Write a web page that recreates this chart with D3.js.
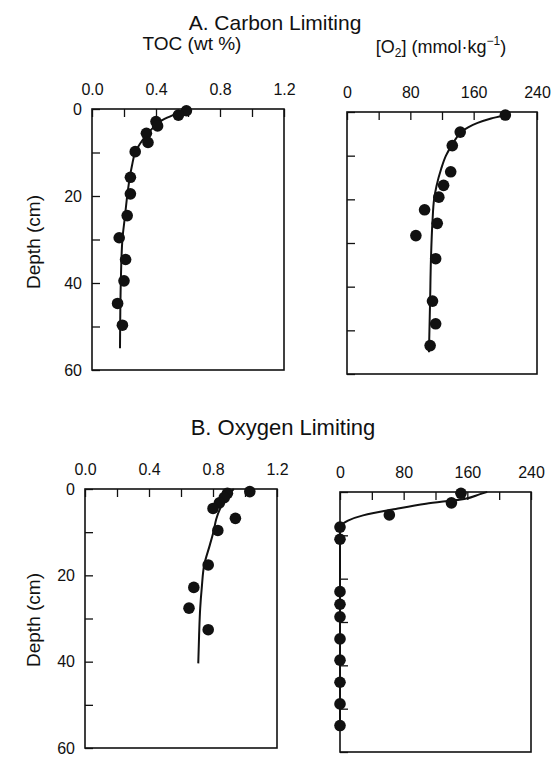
<!DOCTYPE html>
<html>
<head>
<meta charset="utf-8">
<script src="https://cdn.jsdelivr.net/npm/d3@7"></script>
<style>
  html, body { margin: 0; padding: 0; background: #fff; }
  svg { display: block; font-family: "Liberation Sans", Arial, Helvetica, sans-serif; }
  .tick text { fill: #111; }
</style>
</head>
<body>
<svg id="chart" width="560" height="758"></svg>
<script>
// Depth axis (cm)
const depthTicks = [0, 10, 20, 30, 40, 50, 60];
const depthLabels = [0, 20, 40, 60];

// TOC axis (wt %)
const tocTicks = [0, 0.2, 0.4, 0.6, 0.8, 1.0, 1.2];
const tocLabels = [0, 0.4, 0.8, 1.2];

// O2 axis (mmol/kg)
const o2Ticks = [0, 40, 80, 120, 160, 200, 240];
const o2Labels = [0, 80, 160, 240];

// A. Carbon limiting — TOC measurements
const aTocDepth = [0.4, 1.4, 2.9, 3.9, 5.6, 7.7, 9.8, 15.7, 19.5, 24.5, 29.6, 34.6, 39.5, 44.7, 49.7];
const aTocValue = [0.59, 0.54, 0.40, 0.41, 0.34, 0.35, 0.27, 0.24, 0.24, 0.22, 0.17, 0.21, 0.20, 0.16, 0.19];
// A. Carbon limiting — TOC model profile
const aTocFitDepth = [0, 1, 2, 3, 4, 6, 8, 10, 13, 16, 20, 25, 30, 40, 55];
const aTocFitValue = [0.59, 0.53, 0.47, 0.42, 0.39, 0.34, 0.30, 0.27, 0.25, 0.235, 0.22, 0.205, 0.19, 0.18, 0.175];

// A. Carbon limiting — O2 measurements
const aO2Depth = [0.7, 4.6, 7.7, 13.7, 16.8, 19.5, 22.4, 25.5, 28.3, 33.6, 43.3, 48.5, 53.5];
const aO2Value = [200, 143, 133, 131, 122, 116, 98, 114, 87, 112, 108, 112, 105];
// A. Carbon limiting — O2 model profile
const aO2FitDepth = [0, 0.7, 1.5, 2.5, 3.5, 4.6, 6, 7.7, 10, 13, 17, 20, 25, 34, 43, 55];
const aO2FitValue = [206, 199, 182, 165, 153, 144, 138, 132, 125, 119, 113, 110, 108, 106, 105, 103.5];

// B. Oxygen limiting — TOC measurements
const bTocDepth = [0.6, 1.0, 2.0, 3.2, 4.5, 6.8, 9.6, 17.6, 22.8, 27.6, 32.6];
const bTocValue = [1.03, 0.89, 0.87, 0.84, 0.80, 0.94, 0.83, 0.77, 0.68, 0.65, 0.77];
// B. Oxygen limiting — TOC model profile
const bTocFitDepth = [0, 2, 4.5, 7, 9.6, 13, 17.6, 22.8, 27.6, 34, 40.4];
const bTocFitValue = [0.93, 0.88, 0.845, 0.82, 0.805, 0.78, 0.745, 0.73, 0.72, 0.713, 0.708];

// B. Oxygen limiting — O2 measurements
const bO2Depth = [0.3, 2.5, 5.3, 8.1, 10.9, 23.0, 25.9, 28.8, 33.9, 38.8, 43.9, 48.9, 53.9];
const bO2Value = [152, 140, 62, 0, 0, 0, 0, 0, 0, 0, 0, 0, 0];
// B. Oxygen limiting — O2 model profile
const bO2FitDepth = [0, 0.5, 1.6, 2.7, 3.9, 5.4, 6.6, 7.7, 9, 55];
const bO2FitValue = [185, 176, 156, 108, 70, 29, 10, 2, 0, 0];

const svg = d3.select("#chart");
const ink = "#111";

const panels = [
  { x: 92,  y: 109, w: 192, h: 261, dom: [0, 1.2], ticks: tocTicks, labels: tocLabels, fmt: d3.format(".1f"),
    pd: aTocDepth, pv: aTocValue, fd: aTocFitDepth, fv: aTocFitValue, depthLabels: true },
  { x: 347, y: 112, w: 190, h: 262, dom: [0, 240], ticks: o2Ticks, labels: o2Labels, fmt: d3.format("d"),
    pd: aO2Depth, pv: aO2Value, fd: aO2FitDepth, fv: aO2FitValue, depthLabels: false },
  { x: 85,  y: 489, w: 192, h: 259, dom: [0, 1.2], ticks: tocTicks, labels: tocLabels, fmt: d3.format(".1f"),
    pd: bTocDepth, pv: bTocValue, fd: bTocFitDepth, fv: bTocFitValue, depthLabels: true },
  { x: 340, y: 492, w: 191, h: 260, dom: [0, 240], ticks: o2Ticks, labels: o2Labels, fmt: d3.format("d"),
    pd: bO2Depth, pv: bO2Value, fd: bO2FitDepth, fv: bO2FitValue, depthLabels: false }
];

panels.forEach(p => {
  const g = svg.append("g").attr("transform", `translate(${p.x},${p.y})`);
  const xs = d3.scaleLinear().domain(p.dom).range([0, p.w]);
  const ys = d3.scaleLinear().domain([0, 60]).range([0, p.h]);

  // top value axis, ticks pointing into the frame
  const xAxis = d3.axisTop(xs)
    .tickValues(p.ticks)
    .tickSizeInner(-8).tickSizeOuter(0)
    .tickPadding(14)
    .tickFormat(d => p.labels.some(l => Math.abs(l - d) < 1e-9) ? p.fmt(d) : "");
  const gx = g.append("g").call(xAxis);
  gx.select(".domain").remove();
  gx.selectAll(".tick line").attr("stroke", ink).attr("stroke-width", 1.3);
  gx.selectAll(".tick text").attr("font-size", 16).attr("font-family", "Liberation Sans, Arial, sans-serif");

  // left depth axis
  const yAxis = d3.axisLeft(ys)
    .tickValues(depthTicks)
    .tickSizeInner(-8).tickSizeOuter(0)
    .tickPadding(10)
    .tickFormat(d => p.depthLabels && depthLabels.includes(d) ? d3.format("d")(d) : "");
  const gy = g.append("g").call(yAxis);
  gy.select(".domain").remove();
  gy.selectAll(".tick line").attr("stroke", ink).attr("stroke-width", 1.3);
  gy.selectAll(".tick text").attr("font-size", 16).attr("font-family", "Liberation Sans, Arial, sans-serif");

  // frame
  g.append("rect")
    .attr("x", 0).attr("y", 0).attr("width", p.w).attr("height", p.h)
    .attr("fill", "none").attr("stroke", ink).attr("stroke-width", 1.6);

  // model profile
  const fit = p.fd.map((d, i) => ({ d, v: p.fv[i] }));
  const line = d3.line().x(o => xs(o.v)).y(o => ys(o.d)).curve(d3.curveMonotoneY);
  g.append("path").datum(fit)
    .attr("d", line)
    .attr("fill", "none").attr("stroke", ink).attr("stroke-width", 2);

  // measurements
  const pts = p.pd.map((d, i) => ({ d, v: p.pv[i] }));
  g.selectAll("circle.pt").data(pts).join("circle")
    .attr("class", "pt")
    .attr("cx", o => xs(o.v)).attr("cy", o => ys(o.d))
    .attr("r", 5.8).attr("fill", ink);
});

// Titles and axis titles
const txt = (x, y, s, size, anchor = "middle") =>
  svg.append("text").attr("x", x).attr("y", y).attr("text-anchor", anchor)
    .attr("font-size", size).attr("fill", ink).text(s);

txt(275, 30, "A. Carbon Limiting", 21);
txt(283, 435, "B. Oxygen Limiting", 22);
txt(192, 50, "TOC (wt %)", 19);

// [O2] (mmol·kg−1)
const o2t = svg.append("text").attr("x", 441).attr("y", 53).attr("text-anchor", "middle")
  .attr("font-size", 18).attr("fill", ink);
o2t.append("tspan").text("[O");
o2t.append("tspan").attr("font-size", 12).attr("dy", 4).text("2");
o2t.append("tspan").attr("dy", -4).text("] (mmol\u00B7kg");
o2t.append("tspan").attr("font-size", 12).attr("dy", -8).text("\u22121");
o2t.append("tspan").attr("dy", 8).text(")");

// depth titles
[[33, 242], [33, 620]].forEach(([x, y]) => {
  svg.append("text")
    .attr("transform", `translate(${x},${y}) rotate(-90)`)
    .attr("text-anchor", "middle").attr("dy", "0.35em")
    .attr("font-size", 19).attr("fill", ink).text("Depth (cm)");
});
</script>
</body>
</html>
